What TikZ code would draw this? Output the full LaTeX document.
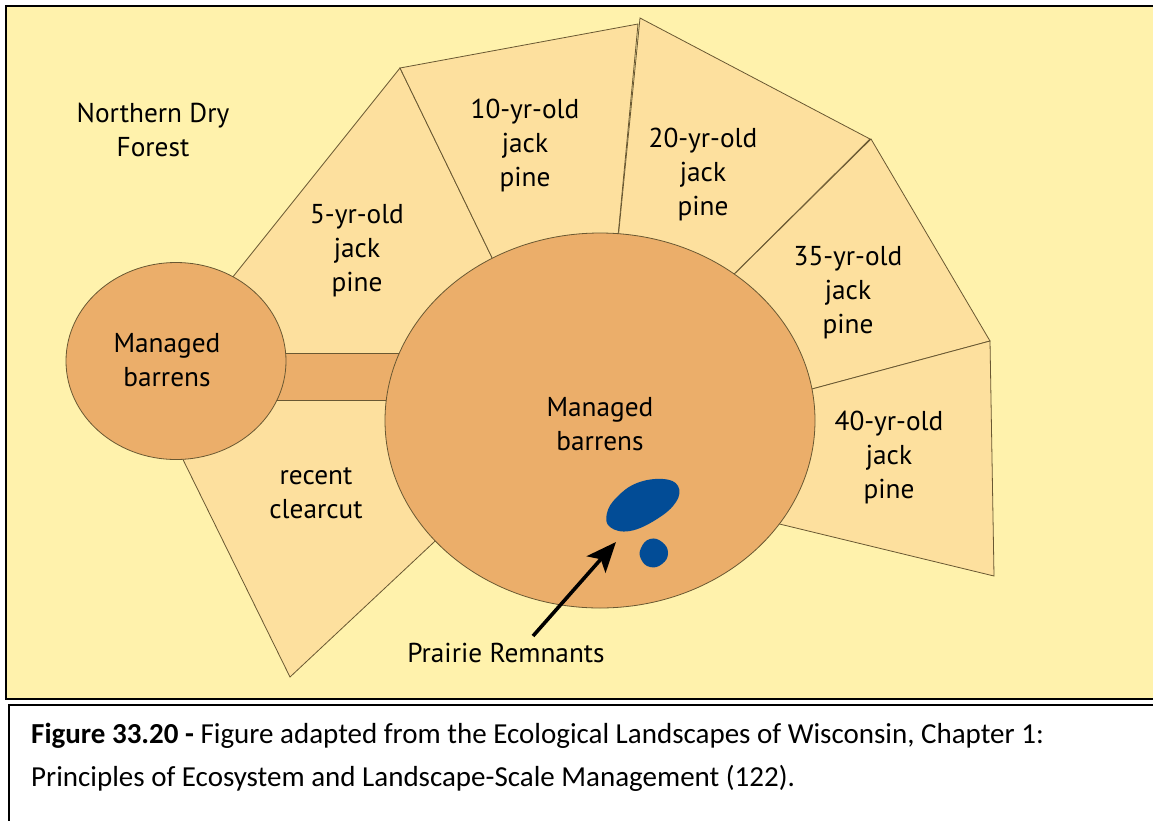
\documentclass[tikz,border=0pt]{standalone}
\usepackage{fontspec}
\setmainfont{PT Sans}
\newfontfamily\capfont{Carlito}
\usetikzlibrary{arrows.meta}
\definecolor{bgyel}{RGB}{255,242,172}
\definecolor{wedgec}{RGB}{253,224,158}
\definecolor{orangec}{RGB}{235,174,106}
\definecolor{bluec}{RGB}{2,76,150}
\definecolor{edgec}{RGB}{105,88,50}
\newcommand{\lines}[1]{\begin{tabular}[t]{@{}c@{}}#1\end{tabular}}
\begin{document}
\begin{tikzpicture}[x=1pt,y=-1pt,
  wedge/.style={fill=wedgec, draw=edgec, line width=0.8pt, line join=miter},
  barren/.style={fill=orangec, draw=edgec, line width=0.8pt},
  lbl/.style={font=\fontsize{27.3}{34}\selectfont, inner sep=0pt, anchor=base, text=black},
  blob/.style={fill=bluec, draw=none},
  capt/.style={font=\capfont\fontsize{29}{36}\selectfont, inner sep=0pt, anchor=base west}]
\clip (0,0) rectangle (1153,820);
\fill[white] (0,0) rectangle (1153,820);
% frames
\draw[fill=bgyel, line width=2.6pt] (6,6) rectangle (1175,699);
\draw[line width=2.2pt] (9,705) rectangle (1175,850);
% wedges
\draw[wedge] (400,68) -- (530,336) -- (530,376) -- (176,376) -- (176,348) -- cycle;
\draw[wedge] (400,68) -- (638,24) -- (612,300) -- (530,336) -- cycle;
\draw[wedge] (640,18) -- (870,139) -- (700,308) -- (612,300) -- cycle;
\draw[wedge] (871,139) -- (990,341) -- (760,403) -- (700,308) -- cycle;
\draw[wedge] (990,341) -- (994,576) -- (730,512) -- (760,403) -- cycle;
\draw[wedge] (165,423) -- (290,677) -- (480,499) -- (480,380) -- (176,380) -- cycle;
% bar and barrens
\draw[barren] (250,353) rectangle (450,400);
\draw[barren] (176,361) ellipse [x radius=110pt, y radius=98.5pt];
\draw[barren] (600,420.5) ellipse [x radius=215pt, y radius=187.5pt];
% prairie remnants
\fill[blob] plot[smooth cycle, tension=0.7] coordinates {(607,513) (617,497) (637,483) (663,479) (678,486) (676,502) (657,519) (630,531) (610,527)};
\fill[blob] plot[smooth cycle, tension=0.8] coordinates {(641,548) (650,539) (662,542) (668,553) (662,564) (650,567) (641,559)};
% labels
\node[lbl] (ndf) at (153,122) {\lines{Northern Dry\\Forest}};
\node[lbl] (y5) at (357,223) {\lines{5-yr-old\\jack\\pine}};
\node[lbl] (y10) at (525,118) {\lines{10-yr-old\\jack\\pine}};
\node[lbl] (y20) at (703,147) {\lines{20-yr-old\\jack\\pine}};
\node[lbl] (y35) at (848,265) {\lines{35-yr-old\\jack\\pine}};
\node[lbl] (y40) at (889,430) {\lines{40-yr-old\\jack\\pine}};
\node[lbl] (mb1) at (167,352) {\lines{Managed\\barrens}};
\node[lbl] (mb2) at (600,416) {\lines{Managed\\barrens}};
\node[lbl] (rc) at (316,484) {\lines{recent\\clearcut}};
\node[lbl] (pr) at (506,662) {Prairie Remnants};
% arrow
\coordinate (arrS) at (533,636);
\coordinate (arrE) at (616,542);
\draw[line width=3.6pt, -{Stealth[length=30pt, width=25pt, inset=7pt]}] (arrS) -- (arrE);
% caption
\node[capt] (cap1) at (31,743) {\textbf{Figure 33.20 -} Figure adapted from the Ecological Landscapes of Wisconsin, Chapter 1:};
\node[capt] (cap2) at (31,786) {Principles of Ecosystem and Landscape-Scale Management (122).};
\end{tikzpicture}
\end{document}
